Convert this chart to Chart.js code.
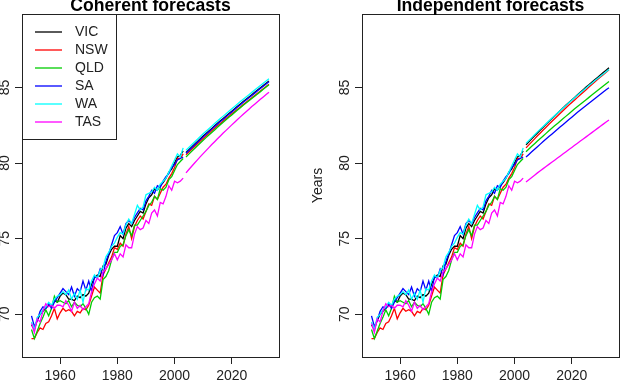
<!DOCTYPE html>
<html>
<head>
<meta charset="utf-8">
<script src="https://cdn.jsdelivr.net/npm/chart.js@4.4.0/dist/chart.umd.min.js"></script>
<style>
  body { margin: 0; background: #fff; }
  #wrap { width: 624px; height: 386px; position: relative; }
  canvas { position: absolute; top: 0; }
</style>
</head>
<body>
<div id="wrap">
  <canvas id="left" width="312" height="386" style="left:0"></canvas>
  <canvas id="right" width="312" height="386" style="left:312px"></canvas>
</div>
<script>
// years
var years = [];
for (var yr = 1950; yr <= 2003; yr++) years.push(yr);
var fcYears = [];
for (var fy = 2004; fy <= 2033; fy++) fcYears.push(fy);

var states = ["VIC", "NSW", "QLD", "SA", "WA", "TAS"];
var colours = ["#000000", "#FF0000", "#00CD00", "#0000FF", "#00FFFF", "#FF00FF"];

var xTicks = [1960, 1980, 2000, 2020];
var yTicks = [70, 75, 80, 85];

// observed life expectancy 1950-2003
var vic = [69.3, 69.0, 69.6, 70.0, 70.2, 70.4, 70.6, 70.5, 70.9, 70.8,
           71.2, 71.4, 71.3, 71.0, 71.0, 70.9, 71.2, 71.1, 71.3, 71.2,
           71.4, 72.0, 72.4, 72.6, 72.5, 73.2, 73.3, 73.9, 74.3, 74.5,
           74.5, 75.2, 75.0, 75.7, 76.0, 75.8, 76.2, 76.5, 76.8, 76.7,
           77.3, 77.7, 77.9, 78.3, 78.2, 78.5, 78.7, 79.0, 79.4, 79.6,
           80.0, 80.4, 80.5, 80.8];
var nsw = [68.4, 68.4, 68.8, 69.1, 69.0, 69.4, 69.5, 69.9, 70.4, 69.7,
           70.1, 70.4, 70.2, 70.3, 70.2, 69.9, 70.2, 70.1, 70.4, 70.3,
           70.6, 71.2, 71.8, 71.6, 71.4, 72.6, 73.0, 73.4, 73.8, 74.4,
           74.3, 74.7, 74.5, 75.3, 75.8, 75.0, 75.8, 76.2, 76.5, 76.3,
           76.8, 77.3, 77.2, 77.8, 77.6, 78.0, 78.4, 78.6, 79.0, 79.3,
           79.7, 80.3, 80.3, 80.6];
var qld = [69.0, 68.4, 68.9, 69.4, 69.8, 70.3, 69.9, 70.4, 71.2, 70.8,
           70.9, 70.8, 70.7, 70.9, 70.5, 70.8, 70.6, 70.5, 70.7, 70.4,
           70.0, 70.8, 71.1, 71.2, 71.0, 72.3, 72.5, 72.9, 73.6, 74.1,
           74.1, 74.5, 74.6, 75.2, 75.6, 75.2, 75.9, 75.9, 76.2, 76.5,
           76.8, 77.2, 77.4, 77.8, 77.6, 78.3, 78.2, 78.4, 78.9, 79.1,
           79.5, 79.9, 80.1, 80.3];
var sa  = [69.9, 69.2, 69.6, 70.2, 70.5, 70.4, 70.7, 70.4, 70.8, 71.1,
           71.4, 71.7, 71.5, 71.3, 71.8, 71.2, 71.7, 71.5, 72.2, 71.6,
           72.2, 71.5, 72.5, 72.4, 73.0, 72.6, 73.5, 74.0, 74.6, 75.2,
           75.4, 75.8, 75.3, 76.0, 76.2, 76.0, 76.4, 76.7, 77.0, 76.9,
           77.5, 77.8, 78.2, 78.0, 78.5, 78.4, 78.8, 79.1, 79.3, 79.7,
           79.9, 80.2, 80.3, 80.4];
var wa  = [69.5, 69.0, 69.8, 70.0, 70.3, 70.5, 70.8, 70.6, 71.0, 71.2,
           71.3, 71.5, 71.3, 71.6, 71.0, 71.4, 71.0, 71.6, 70.8, 71.7,
           71.6, 72.2, 72.6, 72.4, 72.9, 73.1, 73.8, 74.1, 74.5, 74.7,
           75.1, 75.4, 75.3, 75.9, 76.3, 76.0, 76.6, 77.2, 76.9, 77.1,
           77.9, 78.0, 78.1, 78.4, 78.2, 78.6, 78.8, 79.0, 79.4, 79.8,
           80.2, 80.6, 80.4, 81.0];
var tas = [69.4, 68.8, 69.7, 69.5, 70.2, 70.7, 70.5, 70.6, 70.4, 70.6,
           70.6, 70.5, 70.9, 70.6, 70.2, 70.8, 70.4, 70.6, 70.3, 70.5,
           70.7, 71.5, 72.0, 72.4, 72.2, 72.8, 73.0, 73.3, 73.6, 74.0,
           73.6, 74.0, 73.8, 74.6, 74.4, 74.4, 75.3, 75.8, 75.6, 75.7,
           76.2, 76.0, 76.7, 76.9, 76.5, 77.4, 77.3, 77.8, 78.5, 78.2,
           78.8, 78.7, 78.8, 79.0];

// coherent forecasts 2004-2033
var vicCoh = [80.70, 80.88, 81.06, 81.24, 81.42, 81.60, 81.78, 81.95, 82.12, 82.29,
              82.46, 82.63, 82.79, 82.95, 83.11, 83.27, 83.43, 83.59, 83.75, 83.91,
              84.07, 84.22, 84.37, 84.52, 84.67, 84.82, 84.97, 85.12, 85.27, 85.42];
var nswCoh = [80.55, 80.73, 80.91, 81.09, 81.27, 81.45, 81.62, 81.79, 81.96, 82.13,
              82.30, 82.46, 82.62, 82.78, 82.94, 83.10, 83.26, 83.41, 83.56, 83.71,
              83.86, 84.01, 84.16, 84.31, 84.46, 84.61, 84.76, 84.91, 85.06, 85.21];
var qldCoh = [80.40, 80.59, 80.78, 80.96, 81.14, 81.32, 81.50, 81.68, 81.85, 82.02,
              82.19, 82.36, 82.53, 82.70, 82.86, 83.02, 83.18, 83.34, 83.50, 83.66,
              83.82, 83.97, 84.12, 84.27, 84.42, 84.57, 84.72, 84.87, 85.02, 85.17];
var saCoh  = [80.65, 80.83, 81.01, 81.19, 81.37, 81.55, 81.73, 81.90, 82.07, 82.24,
              82.41, 82.58, 82.74, 82.90, 83.06, 83.22, 83.38, 83.54, 83.70, 83.86,
              84.02, 84.17, 84.32, 84.47, 84.62, 84.77, 84.92, 85.07, 85.22, 85.37];
var waCoh  = [80.85, 81.03, 81.21, 81.39, 81.57, 81.75, 81.93, 82.10, 82.27, 82.44,
              82.61, 82.78, 82.94, 83.10, 83.26, 83.42, 83.58, 83.74, 83.90, 84.06,
              84.22, 84.37, 84.52, 84.67, 84.82, 84.97, 85.12, 85.27, 85.42, 85.57];
var tasCoh = [79.35, 79.57, 79.79, 80.00, 80.21, 80.42, 80.62, 80.82, 81.02, 81.22,
              81.41, 81.60, 81.79, 81.98, 82.16, 82.34, 82.52, 82.70, 82.88, 83.05,
              83.22, 83.39, 83.56, 83.73, 83.89, 84.05, 84.21, 84.37, 84.53, 84.68];

// independent forecasts 2004-2033
var vicInd = [81.20, 81.40, 81.60, 81.80, 81.99, 82.18, 82.37, 82.56, 82.75, 82.93,
              83.11, 83.29, 83.47, 83.65, 83.83, 84.00, 84.17, 84.34, 84.51, 84.68,
              84.85, 85.02, 85.18, 85.34, 85.50, 85.66, 85.82, 85.98, 86.14, 86.30];
var nswInd = [81.00, 81.20, 81.40, 81.60, 81.80, 81.99, 82.18, 82.37, 82.56, 82.75,
              82.93, 83.11, 83.29, 83.47, 83.65, 83.83, 84.00, 84.17, 84.34, 84.51,
              84.68, 84.85, 85.02, 85.19, 85.36, 85.52, 85.68, 85.84, 86.00, 86.16];
var qldInd = [80.75, 80.93, 81.11, 81.28, 81.45, 81.62, 81.79, 81.96, 82.13, 82.30,
              82.46, 82.62, 82.78, 82.94, 83.10, 83.26, 83.42, 83.58, 83.74, 83.89,
              84.04, 84.19, 84.34, 84.49, 84.64, 84.79, 84.94, 85.09, 85.24, 85.39];
var saInd  = [80.40, 80.57, 80.74, 80.91, 81.08, 81.25, 81.42, 81.59, 81.75, 81.91,
              82.07, 82.23, 82.39, 82.55, 82.71, 82.87, 83.03, 83.19, 83.35, 83.50,
              83.65, 83.80, 83.95, 84.10, 84.25, 84.40, 84.55, 84.70, 84.85, 84.98];
var waInd  = [81.30, 81.49, 81.68, 81.87, 82.06, 82.24, 82.42, 82.60, 82.78, 82.96,
              83.13, 83.30, 83.47, 83.64, 83.81, 83.98, 84.15, 84.32, 84.48, 84.64,
              84.80, 84.96, 85.12, 85.28, 85.44, 85.59, 85.74, 85.89, 86.04, 86.19];
var tasInd = [78.75, 78.90, 79.05, 79.20, 79.35, 79.49, 79.63, 79.77, 79.91, 80.05,
              80.19, 80.33, 80.47, 80.61, 80.75, 80.89, 81.03, 81.17, 81.31, 81.45,
              81.59, 81.73, 81.87, 82.01, 82.15, 82.29, 82.43, 82.57, 82.71, 82.85];

var hist = [vic, nsw, qld, sa, wa, tas];
var coh = [vicCoh, nswCoh, qldCoh, saCoh, waCoh, tasCoh];
var ind = [vicInd, nswInd, qldInd, saInd, waInd, tasInd];

var FONT = '"Liberation Sans", Arial, Helvetica, sans-serif';

function pts(xs, ys) {
  return xs.map(function (x, i) { return { x: x, y: ys[i] }; });
}

function makeDatasets(fc) {
  var ds = [];
  for (var i = 0; i < states.length; i++) {
    ds.push({ label: states[i], data: pts(years, hist[i]), borderColor: colours[i],
              borderWidth: 1.3, pointRadius: 0, fill: false, tension: 0, order: 20 - i });
    ds.push({ label: states[i] + " fc", data: pts(fcYears, fc[i]), borderColor: colours[i],
              borderWidth: 1.3, pointRadius: 0, fill: false, tension: 0, order: 10 - i });
  }
  return ds;
}

// box, title, tick labels, axis title and legend in R style
var framePlugin = {
  id: 'frame',
  afterDraw: function (chart, args, opts) {
    var ctx = chart.ctx, a = chart.chartArea;
    var xs = chart.scales.x, ys = chart.scales.y;
    ctx.save();
    ctx.strokeStyle = '#222';
    ctx.lineWidth = 1;
    ctx.strokeRect(Math.round(a.left) + 0.5, Math.round(a.top) + 0.5,
                   Math.round(a.right - a.left), Math.round(a.bottom - a.top));

    ctx.fillStyle = '#000';
    ctx.font = 'bold 17.6px ' + FONT;
    ctx.textAlign = 'center';
    ctx.textBaseline = 'alphabetic';
    ctx.fillText(opts.title, (a.left + a.right) / 2, 11);

    ctx.fillStyle = '#222';
    ctx.font = '14px ' + FONT;
    xTicks.forEach(function (v) {
      ctx.fillText(String(v), xs.getPixelForValue(v), 380);
    });
    yTicks.forEach(function (v) {
      ctx.save();
      ctx.translate(a.left - 13, ys.getPixelForValue(v));
      ctx.rotate(-Math.PI / 2);
      ctx.fillText(String(v), 0, 0);
      ctx.restore();
    });
    if (opts.yLabel) {
      ctx.save();
      ctx.translate(10, (a.top + a.bottom) / 2);
      ctx.rotate(-Math.PI / 2);
      ctx.fillText(opts.yLabel, 0, 0);
      ctx.restore();
    }

    if (opts.legend) {
      var lx = Math.round(a.left) + 0.5, ly = Math.round(a.top) + 0.5;
      ctx.fillStyle = '#fff';
      ctx.fillRect(lx, ly, 94, 125);
      ctx.strokeStyle = '#222';
      ctx.strokeRect(lx, ly, 94, 125);
      ctx.textAlign = 'left';
      ctx.textBaseline = 'middle';
      states.forEach(function (s, i) {
        var yy = a.top + 18 + i * 18;
        ctx.strokeStyle = colours[i];
        ctx.lineWidth = 1.3;
        ctx.beginPath();
        ctx.moveTo(a.left + 13, yy);
        ctx.lineTo(a.left + 40, yy);
        ctx.stroke();
        ctx.fillStyle = '#222';
        ctx.fillText(s, a.left + 53, yy);
      });
    }
    ctx.restore();
  }
};

function makeChart(id, fc, title, yAxisWidth, padRight, legend, yLabel) {
  return new Chart(document.getElementById(id), {
    type: 'line',
    data: { datasets: makeDatasets(fc) },
    options: {
      responsive: false,
      animation: false,
      layout: { padding: { left: 0, right: padRight, top: 14, bottom: 0 } },
      plugins: {
        legend: { display: false },
        tooltip: { enabled: false },
        frame: { title: title, legend: legend, yLabel: yLabel }
      },
      scales: {
        x: {
          type: 'linear', min: 1946.68, max: 2036.5,
          afterBuildTicks: function (s) { s.ticks = xTicks.map(function (v) { return { value: v }; }); },
          afterFit: function (s) { s.height = 29; },
          grid: { drawOnChartArea: false, drawTicks: true, tickLength: 7, color: '#222' },
          border: { display: false },
          ticks: { display: false }
        },
        y: {
          type: 'linear', min: 67.18, max: 89.85,
          afterBuildTicks: function (s) { s.ticks = yTicks.map(function (v) { return { value: v }; }); },
          afterFit: function (s) { s.width = yAxisWidth; },
          grid: { drawOnChartArea: false, drawTicks: true, tickLength: 7, color: '#222' },
          border: { display: false },
          ticks: { display: false }
        }
      }
    },
    plugins: [framePlugin]
  });
}

makeChart('left', coh, 'Coherent forecasts', 22, 33, true, null);
makeChart('right', ind, 'Independent forecasts', 50, 5, false, 'Years');
</script>
</body>
</html>
